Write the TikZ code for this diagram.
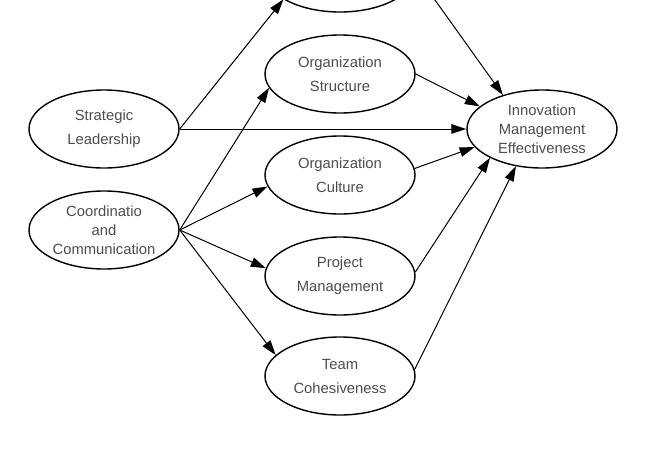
\documentclass[tikz,border=0pt]{standalone}
\usepackage{xcolor}
\usepackage{fontspec}
\setmainfont{Liberation Sans}
\usepackage{tikz}
\usetikzlibrary{positioning, shapes.geometric, arrows.meta}

\tikzset{
    factor/.style={draw, ellipse, line width=0.7pt, minimum width=75pt, minimum height=39pt,
        inner sep=0pt, align=center, text=black!70, font=\fontsize{7.4}{12}\selectfont},
    factorthree/.style={factor, font=\fontsize{7.4}{9.5}\selectfont},
    link/.style={-{Triangle[length=7.5pt, width=4.8pt]}, line width=0.5pt}
}

\begin{document}
\begin{tikzpicture}[x=0.5pt, y=-0.5pt]
    \useasboundingbox (0,0) rectangle (650,450);
    \clip (0,0) rectangle (650,450);

    \node[factor]      (sl)  at (104,129) {Strategic\\Leadership};
    \node[factorthree] (cc)  at (104,230) {Coordinatio\\and\\Communication};
    \node[factor]      (top) at (340,-27) {};
    \node[factor]      (os)  at (340,74)  {Organization\\Structure};
    \node[factor]      (oc)  at (340,175) {Organization\\Culture};
    \node[factor]      (pm)  at (340,276) {Project\\Management};
    \node[factor]      (tc)  at (340,376) {Team\\Cohesiveness};
    \node[factorthree] (ime) at (542,129) {Innovation\\Management\\Effectiveness};

    % from the two left factors
    \draw[link] (sl.east) -- (top.205);
    \draw[link] (sl.east) -- (ime.west);
    \draw[link] (cc.east) -- (os.191);
    \draw[link] (cc.east) -- (oc.189);
    \draw[link] (cc.east) -- (pm.174);
    \draw[link] (cc.east) -- (tc.162);

    % into the outcome
    \draw[link] (top.east) -- (ime.139);
    \draw[link] (os.east)  -- (ime.160);
    \draw[link] (oc.5)     -- (ime.195);
    \draw[link] (pm.3)     -- (ime.209);
    \draw[link] (tc.5)     -- (ime.235);
\end{tikzpicture}
\end{document}
